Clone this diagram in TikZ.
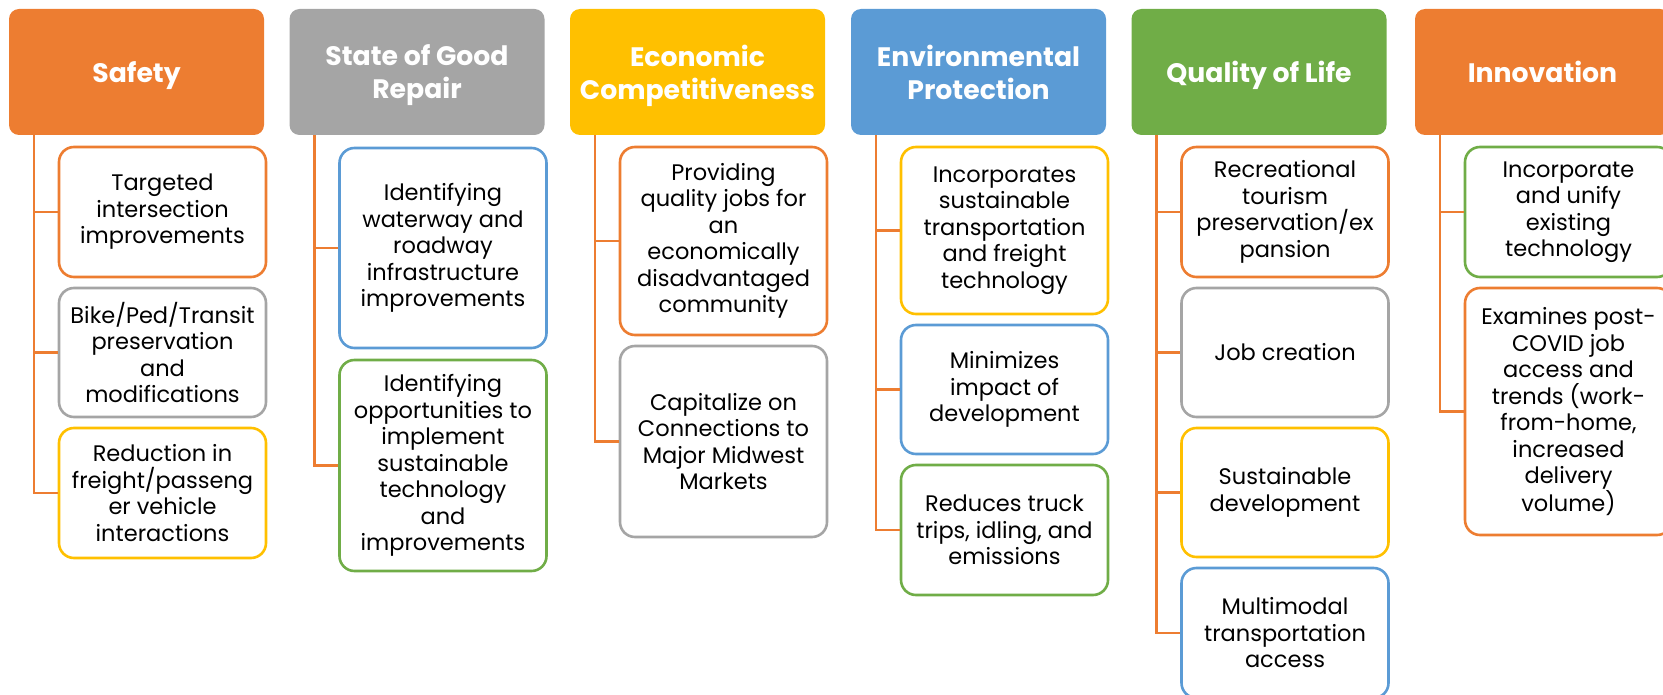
\documentclass[tikz,border=0pt]{standalone}
\usepackage{fontspec}
\setmainfont{Poppins}
\usetikzlibrary{
	positioning				% relative placement
	, calc					% trunk offsets
}

\definecolor{accOrange}{HTML}{ED7D31}
\definecolor{accGray}{HTML}{A5A5A5}
\definecolor{accGold}{HTML}{FFC000}
\definecolor{accBlue}{HTML}{5B9BD5}
\definecolor{accGreen}{HTML}{70AD47}

\begin{document}
\begin{tikzpicture}[x=1pt, y=-1pt,
			heading/.style={
				rectangle,
				rounded corners=10pt,
				fill=#1,
				text=white,
				font=\fontsize{26.7}{33}\selectfont\bfseries,
				align=center,
				text depth=0pt,
				minimum width=255pt,
				minimum height=126pt,
				inner sep=0pt
			},
			item/.style={
				rectangle,
				rounded corners=15pt,
				draw=#1, line width=2.6pt,
				fill=white,
				font=\fontsize{22.5}{26.5}\selectfont,
				align=center,
				minimum width=207pt,
				inner sep=0pt
			},
			link/.style={
				draw=accOrange,
				line width=2.6pt
			}]

			\useasboundingbox (0,0) rectangle (1663,695);

			%%% Column headings
			\node [heading=accOrange] (safety) at (136.5,72) {Safety};
			\node [heading=accGray] (repair) at (417,72) {State of Good\\Repair};
			\node [heading=accGold] (economy) at (697.5,72) {Economic\\Competitiveness};
			\node [heading=accBlue] (environment) at (978.5,72) {Environmental\\Protection};
			\node [heading=accGreen] (life) at (1259,72) {Quality of Life};
			\node [heading=accOrange] (innovation) at (1542.5,72) {Innovation};

			%%% Safety
			\node [item=accOrange, minimum height=130pt] (safety1) at (162.5,212) {Targeted\\intersection\\improvements};
			\node [item=accGray, minimum height=129pt] (safety2) at (162.5,352.5) {Bike/Ped/Transit\\preservation\\and\\modifications};
			\node [item=accGold, minimum height=130pt] (safety3) at (162.5,493) {Reduction in\\freight/passeng\\er vehicle\\interactions};

			%%% State of good repair
			\node [item=accBlue, minimum height=200pt] (repair1) at (443,248) {Identifying\\waterway and\\roadway\\infrastructure\\improvements};
			\node [item=accGreen, minimum height=211pt] (repair2) at (443,465.5) {Identifying\\opportunities to\\implement\\sustainable\\technology\\and\\improvements};

			%%% Economic competitiveness
			\node [item=accOrange, minimum height=188pt] (economy1) at (723.5,241) {Providing\\quality jobs for\\an\\economically\\disadvantaged\\community};
			\node [item=accGray, minimum height=191pt] (economy2) at (723.5,441.5) {Capitalize on\\Connections to\\Major Midwest\\Markets};

			%%% Environmental protection
			\node [item=accGold, minimum height=167pt] (environment1) at (1004.5,230.5) {Incorporates\\sustainable\\transportation\\and freight\\technology};
			\node [item=accBlue, minimum height=129pt] (environment2) at (1004.5,389.5) {Minimizes\\impact of\\development};
			\node [item=accGreen, minimum height=130pt] (environment3) at (1004.5,530) {Reduces truck\\trips, idling, and\\emissions};

			%%% Quality of life
			\node [item=accOrange, minimum height=130pt] (life1) at (1285,212) {Recreational\\tourism\\preservation/ex\\pansion};
			\node [item=accGray, minimum height=129pt] (life2) at (1285,352.5) {Job creation};
			\node [item=accGold, minimum height=129pt] (life3) at (1285,492.5) {Sustainable\\development};
			\node [item=accBlue, minimum height=130pt] (life4) at (1285,633) {Multimodal\\transportation\\access};

			%%% Innovation
			\node [item=accGreen, minimum height=130pt] (innovation1) at (1568.5,212) {Incorporate\\and unify\\existing\\technology};
			\node [item=accOrange, minimum height=247pt] (innovation2) at (1568.5,411.5) {Examines post-\\COVID job\\access and\\trends (work-\\from-home,\\increased\\delivery\\volume)};

			%%% Trunk lines from each heading to its items
			\foreach \head/\items in {
					safety/{safety1,safety2,safety3},
					repair/{repair1,repair2},
					economy/{economy1,economy2},
					environment/{environment1,environment2,environment3},
					life/{life1,life2,life3,life4},
					innovation/{innovation1,innovation2}} {
				\coordinate (\head-trunk) at ($(\head.south west)+(25,0)$);
				\foreach \item in \items {
					\draw [link] (\head-trunk) |- (\item.west);
				}
			}

		\end{tikzpicture}
\end{document}
